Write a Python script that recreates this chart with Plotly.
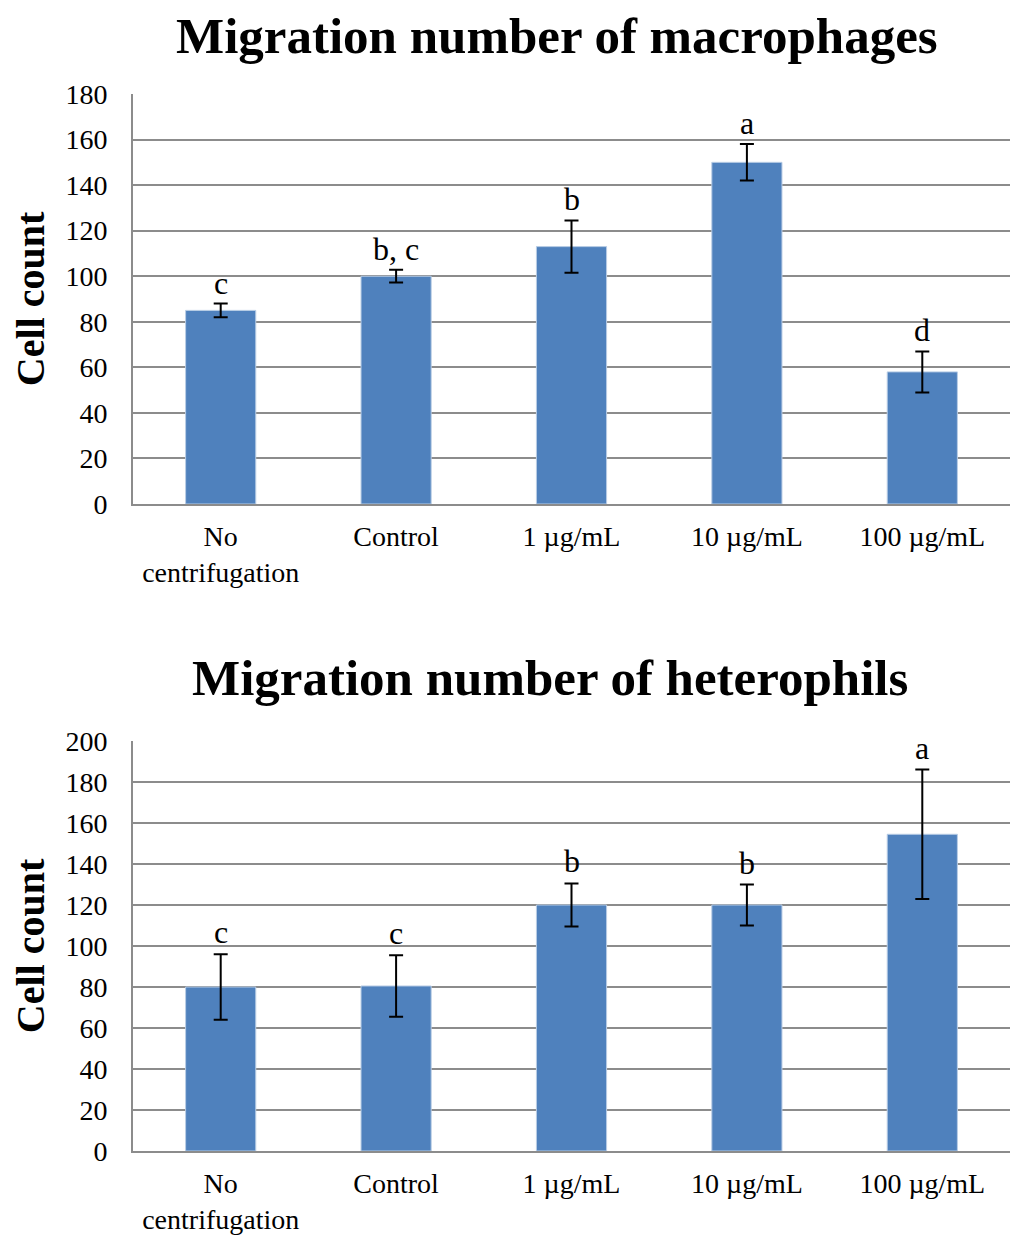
import plotly.graph_objects as go

categories = ["No<br>centrifugation", "Control", "1 µg/mL", "10 µg/mL", "100 µg/mL"]

mac_values = [85, 100, 113, 150, 58]
mac_errors = [3, 2.8, 11.5, 8, 9]
mac_letters = ["c", "b, c", "b", "a", "d"]

het_values = [80, 80.5, 120, 120, 154.5]
het_errors = [16, 15, 10.5, 10, 31.6]
het_letters = ["c", "c", "b", "b", "a"]

mac_title = "Migration number of macrophages"
het_title = "Migration number of heterophils"
y_title = "Cell count"

mac_ticks = [0, 20, 40, 60, 80, 100, 120, 140, 160, 180]
het_ticks = [0, 20, 40, 60, 80, 100, 120, 140, 160, 180, 200]

BAR = "#4F81BD"
GRID = "#8C8C8C"
FONT = "Liberation Serif"

# page has an 8px body margin; size the figure so it fits the window
OFF = 8
W, H = 1024 - 2 * OFF, 1248 - 2 * OFF


def px(X):
    return (X - OFF) / W


def py(Y):
    return 1 - (Y - OFF) / H


fig = go.Figure()

err_style = dict(type="data", thickness=2, width=7, color="black")

fig.add_trace(go.Bar(
    x=categories, y=mac_values, xaxis="x", yaxis="y",
    marker=dict(color=BAR, line=dict(color="#B9CDE5", width=1)),
    error_y=dict(array=mac_errors, **err_style), width=0.4, showlegend=False))
fig.add_trace(go.Bar(
    x=categories, y=het_values, xaxis="x2", yaxis="y2",
    marker=dict(color=BAR, line=dict(color="#B9CDE5", width=1)),
    error_y=dict(array=het_errors, **err_style), width=0.4, showlegend=False))

annotations = []
for c, v, e, t in zip(categories, mac_values, mac_errors, mac_letters):
    annotations.append(dict(x=c, y=v + e, xref="x", yref="y", text=t, showarrow=False,
                            yanchor="middle", yshift=21, font=dict(family=FONT, size=32, color="black")))
for c, v, e, t in zip(categories, het_values, het_errors, het_letters):
    annotations.append(dict(x=c, y=v + e, xref="x2", yref="y2", text=t, showarrow=False,
                            yanchor="middle", yshift=22, font=dict(family=FONT, size=32, color="black")))

annotations.append(dict(x=px(557), y=py(36), xref="paper", yref="paper", text="<b>" + mac_title + "</b>",
                        showarrow=False, xanchor="center", yanchor="middle",
                        font=dict(family=FONT, size=51, color="black")))
annotations.append(dict(x=px(550), y=py(678), xref="paper", yref="paper", text="<b>" + het_title + "</b>",
                        showarrow=False, xanchor="center", yanchor="middle",
                        font=dict(family=FONT, size=51, color="black")))

xdom = [px(133), px(1010)]
xaxis_common = dict(
    domain=xdom, showline=True, linecolor=GRID, linewidth=2, showgrid=False,
    tickfont=dict(family=FONT, size=28, color="black"), ticks="", ticklabelstandoff=6,
    automargin=False, fixedrange=True)
yaxis_common = dict(
    showline=True, linecolor=GRID, linewidth=2, showgrid=True, gridcolor=GRID, gridwidth=2,
    tickfont=dict(family=FONT, size=28, color="black"), ticks="", ticklabelstandoff=18,
    zeroline=False, automargin=False)

fig.update_layout(
    width=W, height=H,
    margin=dict(l=0, r=0, t=0, b=0, autoexpand=False),
    paper_bgcolor="white", plot_bgcolor="white",
    bargap=0.6,
    xaxis=dict(anchor="y", **xaxis_common),
    yaxis=dict(domain=[py(504), py(94)], anchor="x", range=[0, 180],
               tickvals=mac_ticks,
               title=dict(text="<b>" + y_title + "</b>", font=dict(family=FONT, size=40, color="black"),
                          standoff=13),
               **yaxis_common),
    xaxis2=dict(anchor="y2", **xaxis_common),
    yaxis2=dict(domain=[py(1151), py(741)], anchor="x2", range=[0, 200],
                tickvals=het_ticks,
                title=dict(text="<b>" + y_title + "</b>", font=dict(family=FONT, size=40, color="black"),
                           standoff=20),
                **yaxis_common),
    annotations=annotations,
)

fig.write_html("out.html")
